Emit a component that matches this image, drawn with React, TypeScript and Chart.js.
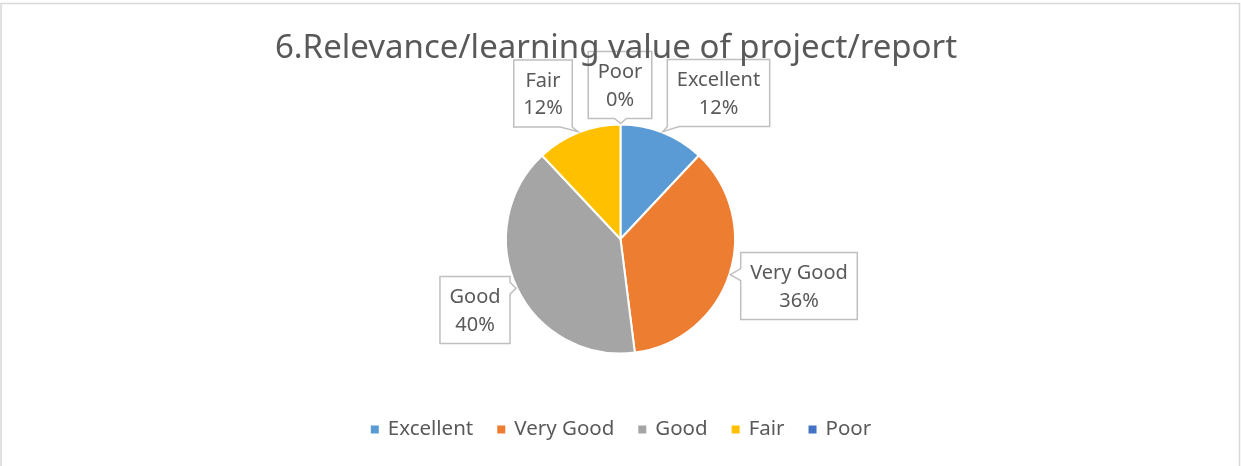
import { useEffect, useRef } from 'react';
import { Chart, registerables } from 'chart.js';

Chart.register(...registerables);

const TITLE = '6.Relevance/learning value of project/report';
const categories = ['Excellent', 'Very Good', 'Good', 'Fair', 'Poor'];
const values = [12, 36, 40, 12, 0];
const colors = ['#5B9BD5', '#ED7D31', '#A5A5A5', '#FFC000', '#4472C4'];

// layout (not data)
const W = 1241;
const H = 466;
const FONT = '"Noto Sans"';
const TEXT_COLOR = '#595959';
const LABEL_CENTERS: [number, number][] = [
  [718.5, 93],
  [799, 286],
  [475, 310],
  [543, 93.5],
  [620, 85],
];
const LABEL_SIDES = ['bottom', 'left', 'right', 'bottom', 'bottom'];

function drawCallout(ctx: CanvasRenderingContext2D, l: number, t: number, r: number, b: number, tip: { x: number; y: number }, side: string) {
  const hw = 6;
  const clamp = (v: number, a: number, c: number) => Math.max(a, Math.min(c, v));
  ctx.beginPath();
  ctx.moveTo(l, t);
  if (side === 'top') {
    const c = clamp(tip.x, l + hw, r - hw);
    ctx.lineTo(c - hw, t); ctx.lineTo(tip.x, tip.y); ctx.lineTo(c + hw, t);
  }
  ctx.lineTo(r, t);
  if (side === 'right') {
    const c = clamp(tip.y, t + hw, b - hw);
    ctx.lineTo(r, c - hw); ctx.lineTo(tip.x, tip.y); ctx.lineTo(r, c + hw);
  }
  ctx.lineTo(r, b);
  if (side === 'bottom') {
    const c = clamp(tip.x, l + hw, r - hw);
    ctx.lineTo(c + hw, b); ctx.lineTo(tip.x, tip.y); ctx.lineTo(c - hw, b);
  }
  ctx.lineTo(l, b);
  if (side === 'left') {
    const c = clamp(tip.y, t + hw, b - hw);
    ctx.lineTo(l, c + hw); ctx.lineTo(tip.x, tip.y); ctx.lineTo(l, c - hw);
  }
  ctx.closePath();
  ctx.fillStyle = '#ffffff';
  ctx.fill();
  ctx.strokeStyle = '#BFBFBF';
  ctx.lineWidth = 1.5;
  ctx.stroke();
}

const decorPlugin = {
  id: 'decor',
  beforeDraw(chart: any) {
    const ctx = chart.ctx as CanvasRenderingContext2D;
    ctx.save();
    ctx.fillStyle = '#ffffff';
    ctx.fillRect(0, 0, W, H);
    ctx.strokeStyle = '#D9D9D9';
    ctx.lineWidth = 1.5;
    ctx.strokeRect(1, 3.5, 1238.5, 480);
    ctx.restore();
  },
  afterDatasetsDraw(chart: any) {
    const ctx = chart.ctx as CanvasRenderingContext2D;
    const meta = chart.getDatasetMeta(0);
    const total = values.reduce((a, b) => a + b, 0);
    ctx.save();
    ctx.font = `20px ${FONT}`;
    meta.data.forEach((arc: any, i: number) => {
      const p = arc.getProps(['x', 'y', 'startAngle', 'endAngle', 'outerRadius'], true);
      const mid = (p.startAngle + p.endAngle) / 2;
      const tip = { x: p.x + Math.cos(mid) * (p.outerRadius + 1), y: p.y + Math.sin(mid) * (p.outerRadius + 1) };
      const line1 = categories[i];
      const line2 = Math.round((values[i] / total) * 100) + '%';
      const tw = Math.max(ctx.measureText(line1).width, ctx.measureText(line2).width);
      const bw = tw + 19;
      const bh = 67;
      const [cx, cy] = LABEL_CENTERS[i];
      const l = cx - bw / 2, r = cx + bw / 2, t = cy - bh / 2, b = cy + bh / 2;
      drawCallout(ctx, l, t, r, b, tip, LABEL_SIDES[i]);
      ctx.fillStyle = TEXT_COLOR;
      ctx.textAlign = 'center';
      ctx.textBaseline = 'middle';
      ctx.fillText(line1, cx, cy - 12.5);
      ctx.fillText(line2, cx, cy + 15);
    });
    ctx.restore();
  },
  afterDraw(chart: any) {
    const ctx = chart.ctx as CanvasRenderingContext2D;
    ctx.save();
    // title
    ctx.fillStyle = TEXT_COLOR;
    ctx.font = `33px ${FONT}`;
    ctx.textAlign = 'center';
    ctx.textBaseline = 'alphabetic';
    ctx.fillText(TITLE, 616, 58);
    // legend
    ctx.font = `20.5px ${FONT}`;
    ctx.textBaseline = 'middle';
    ctx.textAlign = 'left';
    const box = 8, gap = 9, spacing = 24;
    const widths = categories.map((c) => box + gap + ctx.measureText(c).width);
    const totalW = widths.reduce((a, b) => a + b, 0) + spacing * (categories.length - 1);
    let x = 621 - totalW / 2;
    const y = 429.5;
    categories.forEach((c, i) => {
      ctx.fillStyle = colors[i];
      ctx.fillRect(x, y - box / 2, box, box);
      ctx.fillStyle = TEXT_COLOR;
      ctx.fillText(c, x + box + gap, y);
      x += widths[i] + spacing;
    });
    ctx.restore();
  },
};

export default function App() {
  const ref = useRef<HTMLCanvasElement>(null);
  useEffect(() => {
    if (!ref.current) return;
    const chart = new Chart(ref.current, {
      type: 'pie',
      data: {
        labels: categories,
        datasets: [
          {
            data: values,
            backgroundColor: colors,
            borderColor: '#ffffff',
            borderWidth: 2,
          },
        ],
      },
      options: {
        responsive: false,
        animation: false,
        events: [],
        layout: { padding: { top: 123.5, bottom: 111.5, left: 0, right: 0 } },
        plugins: {
          legend: { display: false },
          title: { display: false },
          tooltip: { enabled: false },
        },
      },
      plugins: [decorPlugin],
    });
    return () => chart.destroy();
  }, []);
  return (
    <div style={{ position: 'fixed', left: 0, top: 0, width: W, height: H, background: '#fff' }}>
      <canvas ref={ref} width={W} height={H} style={{ width: W, height: H, display: 'block' }} />
    </div>
  );
}
